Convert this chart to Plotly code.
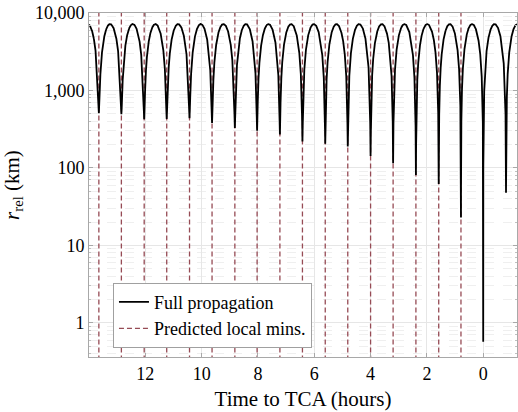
import numpy as np
import plotly.graph_objects as go

# ---- data ----
# times (hours before TCA) of the local minima of the full propagation
min_times = [13.65, 12.85, 12.04, 11.24, 10.43, 9.63, 8.82, 8.03, 7.22,
             6.42, 5.61, 4.81, 4.00, 3.20, 2.39, 1.58, 0.79, 0.0, -0.81]
# relative distance at each local minimum (km)
min_depths = [510, 495, 427, 430, 440, 380, 327, 302, 270,
              219, 205, 189, 143, 115, 81, 62, 23, 0.57, 48]
# relative distance at the maxima between minima (km)
peak_km = 7200
# predicted local minima (hours before TCA)
predicted_mins = [13.65, 12.85, 12.04, 11.24, 10.43, 9.63, 8.82, 8.03, 7.22,
                  6.42, 5.61, 4.81, 4.00, 3.20, 2.39, 1.58, 0.79]

x_ticks = [12, 10, 8, 6, 4, 2, 0]
y_ticks = [1, 10, 100, 1000, 10000]
y_ticktext = ["1", "10", "100", "1,000", "10,000"]

x_range = [14.0, -1.2]
y_range = [0.363, 10000]

# ---- build the arch-shaped curve between the read minima ----
order = np.argsort(min_times)
tm = np.array(min_times, float)[order]
dm = np.array(min_depths, float)[order]
tm_ext = np.concatenate([[tm[0] - (tm[1] - tm[0])], tm, [tm[-1] + (tm[-1] - tm[-2])]])
dm_ext = np.concatenate([[dm[0]], dm, [dm[-1]]])

t = np.union1d(np.linspace(min(x_range), max(x_range), 30001), tm)
k = np.clip(np.searchsorted(tm_ext, t, side="right") - 1, 0, len(tm_ext) - 2)
s = (t - tm_ext[k]) / (tm_ext[k + 1] - tm_ext[k])
d = np.where(s < 0.5, dm_ext[k], dm_ext[k + 1])
r = np.sqrt((peak_km * np.sin(np.pi * s)) ** 2 + d ** 2)

# vertical dashed lines at the predicted minima
vx, vy = [], []
for p in predicted_mins:
    vx += [p, p, None]
    vy += [0.1, 1e5, None]

FONT = "Liberation Serif"
fig = go.Figure()
fig.add_trace(go.Scatter(
    x=vx, y=vy, mode="lines", name="Predicted local mins.",
    line=dict(color="rgb(150,75,85)", width=1.3, dash="5px,3px"),
    legendrank=2, hoverinfo="skip"))
fig.add_trace(go.Scatter(
    x=t, y=r, mode="lines", name="Full propagation",
    line=dict(color="black", width=1.8), legendrank=1))

fig.update_layout(
    width=518, height=412,
    margin=dict(l=89, r=1, t=13, b=55),
    paper_bgcolor="white", plot_bgcolor="white",
    font=dict(family=FONT, size=18, color="black"),
    showlegend=True,
    legend=dict(x=0.056, y=0.216, xanchor="left", yanchor="top",
                bgcolor="white", bordercolor="#a0a0a0", borderwidth=1,
                font=dict(family=FONT, size=18), itemwidth=30,
                tracegroupgap=0),
)
fig.update_xaxes(
    range=x_range, tickvals=x_ticks,
    showline=True, linecolor="#a8a8a8", linewidth=1, mirror="ticks",
    ticks="inside", ticklen=4, tickcolor="#a8a8a8",
    showgrid=True, gridcolor="#e6e6e6", gridwidth=1, zeroline=False,
    tickfont=dict(family=FONT, size=18),
    title=dict(text="Time to TCA (hours)", font=dict(family=FONT, size=21), standoff=8),
)
fig.update_yaxes(
    type="log", range=[np.log10(y_range[0]), np.log10(y_range[1])],
    tickvals=y_ticks, ticktext=y_ticktext,
    showline=True, linecolor="#a8a8a8", linewidth=1, mirror="ticks",
    ticks="inside", ticklen=4, tickcolor="#a8a8a8",
    showgrid=True, gridcolor="#e6e6e6", gridwidth=1, zeroline=False,
    minor=dict(dtick="D1", showgrid=True, gridcolor="#efefef", griddash="dash",
               ticks="inside", ticklen=2, tickcolor="#c0c0c0"),
    tickfont=dict(family=FONT, size=18),
    title=dict(text="<i>r</i><sub>rel</sub> (km)", font=dict(family=FONT, size=21), standoff=12),
)

fig.write_html("out.html")
